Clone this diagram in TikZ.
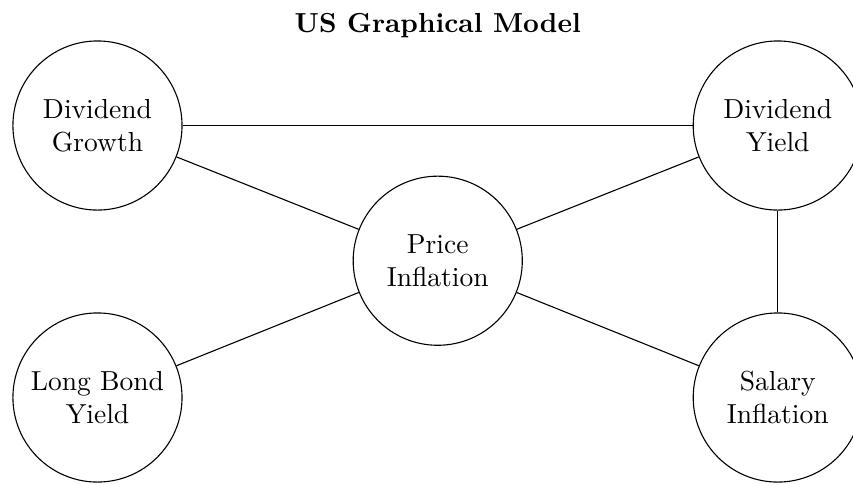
\documentclass[tikz,border=0pt]{standalone}
\usepackage{tikz}
\usetikzlibrary{positioning}
\tikzset{
  var/.style={draw, circle, line width=0.4pt, minimum size=2.16cm,
              inner sep=1pt, align=center},
  link/.style={draw, line width=0.4pt},
  heading/.style={font=\bfseries, inner sep=0pt},
}
\begin{document}
\begin{tikzpicture}[x=1cm, y=1cm]
  \useasboundingbox (0,0) rectangle (10.895,-6.182);

  \node[heading, anchor=base] (title) at (5.591,-0.41) {US Graphical Model};

  % the five variables
  \node[var] (divg)  at (1.245,-1.603) {Dividend\\Growth};
  \node[var] (divy)  at (9.934,-1.603) {Dividend\\Yield};
  \node[var] (price) at (5.591,-3.330) {Price\\Inflation};
  \node[var] (bond)  at (1.245,-5.077) {Long Bond\\Yield};
  \node[var] (sal)   at (9.934,-5.077) {Salary\\Inflation};

  % edges
  \draw[link] (divg) -- (divy);
  \draw[link] (divg) -- (price);
  \draw[link] (price) -- (divy);
  \draw[link] (bond) -- (price);
  \draw[link] (price) -- (sal);
  \draw[link] (divy) -- (sal);
\end{tikzpicture}
\end{document}
